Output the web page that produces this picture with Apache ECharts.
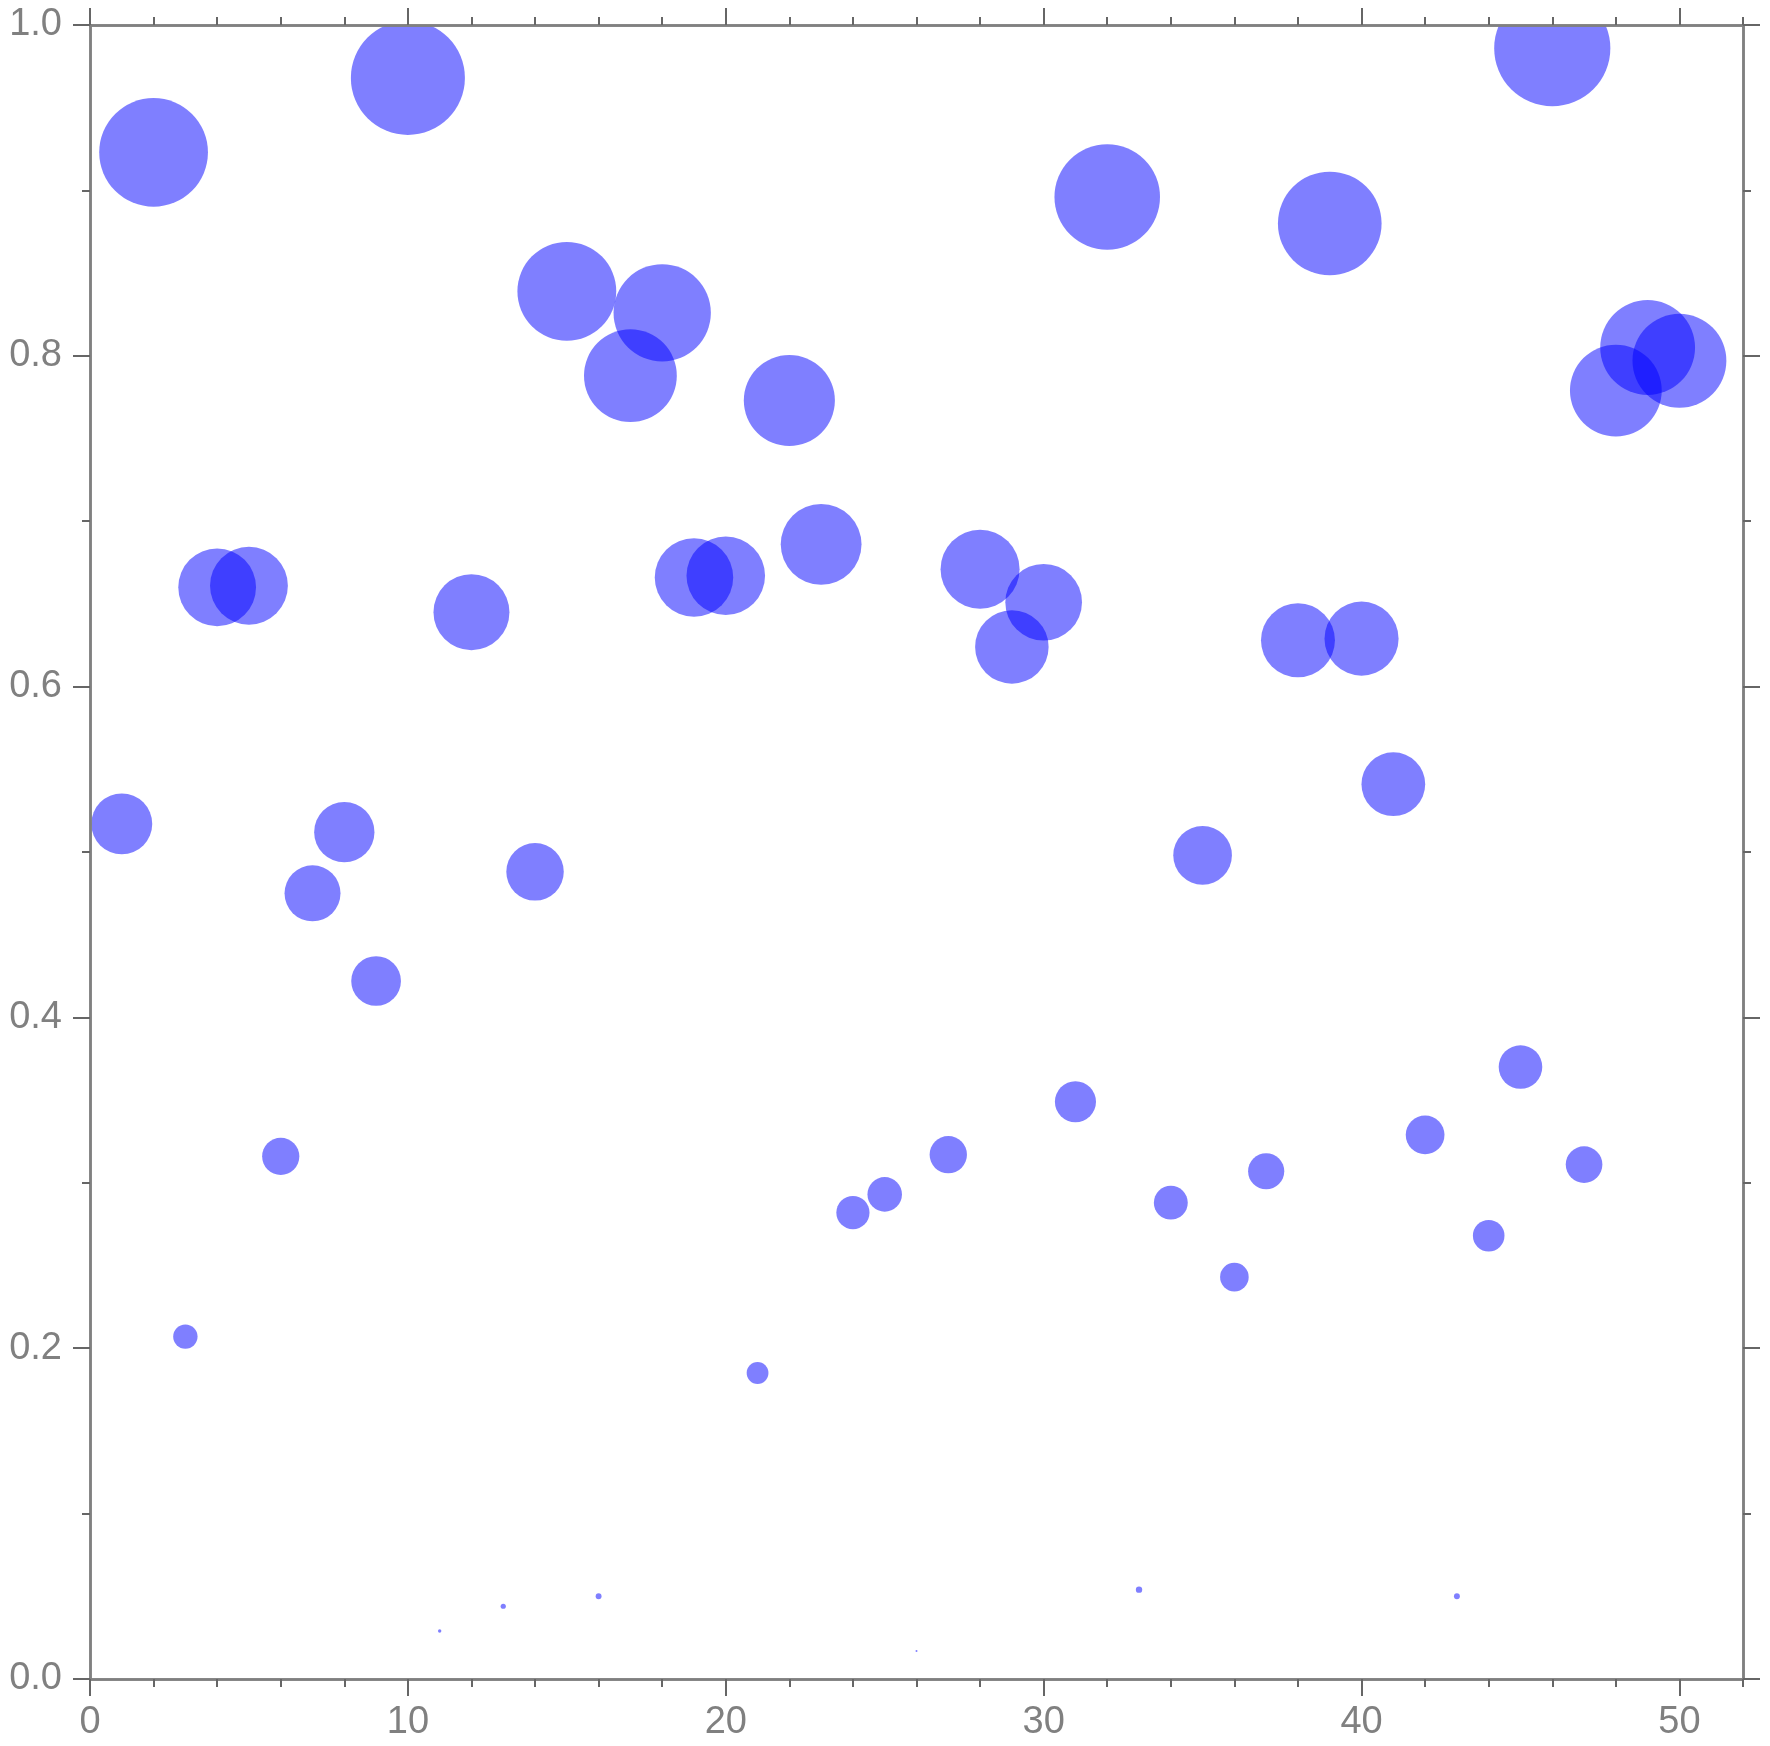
<!DOCTYPE html>
<html>
<head>
<meta charset="utf-8">
<script src="https://cdn.jsdelivr.net/npm/echarts@6/dist/echarts.min.js"></script>
<style>
html,body{margin:0;padding:0;background:#fff;}
#chart{width:1770px;height:1746px;}
</style>
</head>
<body>
<div id="chart"></div>
<script>
const xValues = [1,2,3,4,5,6,7,8,9,10,11,12,13,14,15,16,17,18,19,20,21,22,23,24,25,26,27,28,29,30,31,32,33,34,35,36,37,38,39,40,41,42,43,44,45,46,47,48,49,50];
const yValues = [0.517,0.923,0.207,0.660,0.661,0.316,0.475,0.512,0.422,0.968,0.029,0.645,0.044,0.488,0.839,0.050,0.788,0.826,0.666,0.667,0.185,0.773,0.686,0.282,0.293,0.017,0.317,0.671,0.624,0.651,0.349,0.896,0.054,0.288,0.498,0.243,0.307,0.628,0.880,0.629,0.541,0.329,0.050,0.268,0.370,0.986,0.311,0.779,0.805,0.797];
const xMajorTicks = [0,10,20,30,40,50];
const xMinorTicks = [0,2,4,6,8,10,12,14,16,18,20,22,24,26,28,30,32,34,36,38,40,42,44,46,48,50,52];
const yMajorTicks = [0,0.2,0.4,0.6,0.8,1.0];
const yMinorTicks = [0,0.1,0.2,0.3,0.4,0.5,0.6,0.7,0.8,0.9,1.0];
const X_MIN = 0, X_MAX = 52, Y_MIN = 0, Y_MAX = 1;

const GRID = {left: 90, right: 27, top: 25, bottom: 67};
const SIZE_SCALE = 117.8;
const AXIS_COLOR = '#808080';
const TICK_COLOR = '#666';
const LABEL = {color: '#808080', fontSize: 38, fontFamily: 'Liberation Sans, Arial, sans-serif'};

function xAxisDef(pos, ticks, len, labels) {
  return {
    type: 'value', gridIndex: 0, position: pos, min: X_MIN, max: X_MAX, z: 10,
    axisLine: {show: true, onZero: false, lineStyle: {color: AXIS_COLOR, width: 2.5}},
    axisTick: {show: true, customValues: ticks, length: len, lineStyle: {color: TICK_COLOR, width: 2}},
    axisLabel: labels ? Object.assign({show: true, customValues: ticks, margin: 25, formatter: v => String(v)}, LABEL) : {show: false},
    splitLine: {show: false}, minorTick: {show: false}
  };
}
function yAxisDef(pos, ticks, len, labels) {
  return {
    type: 'value', gridIndex: 0, position: pos, min: Y_MIN, max: Y_MAX, z: 10,
    axisLine: {show: true, onZero: false, lineStyle: {color: AXIS_COLOR, width: 2.5}},
    axisTick: {show: true, customValues: ticks, length: len, lineStyle: {color: TICK_COLOR, width: 2}},
    axisLabel: labels ? Object.assign({show: true, customValues: ticks, margin: 28, formatter: v => v.toFixed(1)}, LABEL) : {show: false},
    splitLine: {show: false}, minorTick: {show: false}
  };
}

const data = xValues.map((x, i) => [x, yValues[i]]);

const chart = echarts.init(document.getElementById('chart'), null, {renderer: 'canvas'});
chart.setOption({
  animation: false,
  backgroundColor: '#fff',
  grid: {left: GRID.left, right: GRID.right, top: GRID.top, bottom: GRID.bottom, containLabel: false},
  xAxis: [
    xAxisDef('bottom', xMajorTicks, 17, true),
    xAxisDef('bottom', xMinorTicks, 8, false),
    xAxisDef('top', xMajorTicks, 17, false),
    xAxisDef('top', xMinorTicks, 8, false)
  ],
  yAxis: [
    yAxisDef('left', yMajorTicks, 17, true),
    yAxisDef('left', yMinorTicks, 8, false),
    yAxisDef('right', yMajorTicks, 17, false),
    yAxisDef('right', yMinorTicks, 8, false)
  ],
  graphic: {elements: [
    {type: 'rect', left: 0, top: 0, z: 5, silent: true,
     shape: {width: 1770, height: GRID.top}, style: {fill: '#fff'}}
  ]},
  series: [{
    type: 'scatter',
    xAxisIndex: 0, yAxisIndex: 0,
    data: data,
    symbol: 'circle',
    symbolSize: v => v[1] * SIZE_SCALE,
    itemStyle: {color: '#0000ff', opacity: 0.5, borderWidth: 0},
    emphasis: {disabled: true},
    clip: false,
    z: 2
  }]
});
</script>
</body>
</html>
